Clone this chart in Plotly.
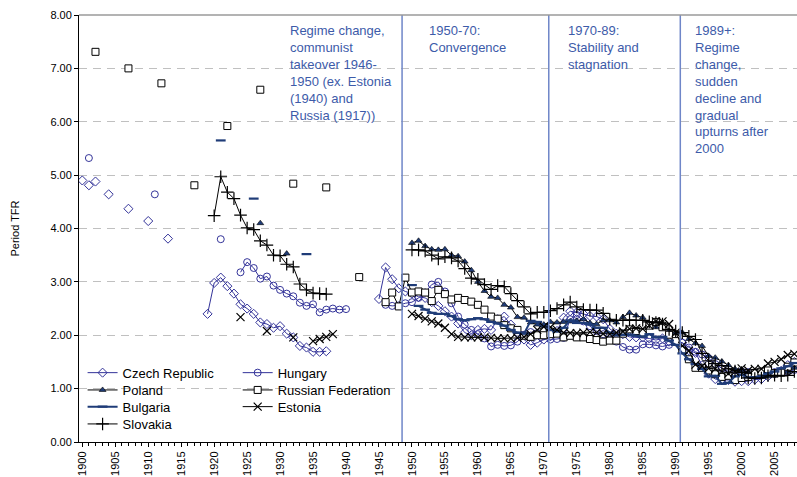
import plotly.graph_objects as go

# ---------------- data ----------------
post_years_45 = list(range(1945, 2009))
post_years_46 = list(range(1946, 2009))
post_years_50 = list(range(1950, 2009))
post_years_51 = list(range(1951, 2009))

# Czech Republic
cz_early_years = [1900, 1901, 1902, 1904, 1907, 1910, 1913]
cz_early_tfr = [4.90, 4.81, 4.88, 4.64, 4.37, 4.14, 3.81]
cz_years_interwar = list(range(1919, 1938))
cz_tfr_interwar = [2.40, 2.98, 3.08, 2.92, 2.78, 2.58, 2.50, 2.40, 2.24, 2.21,
                   2.14, 2.17, 2.03, 1.96, 1.80, 1.77, 1.69, 1.69, 1.70]
cz_tfr_post = [2.68, 3.27, 3.05, 2.88, 2.82,
               2.78, 2.72, 2.70, 2.62, 2.55, 2.45, 2.35, 2.22, 2.05, 2.00,
               2.10, 2.12, 2.10, 2.30, 2.35, 2.20, 2.05, 1.92, 1.82, 1.86,
               1.92, 1.98, 2.08, 2.33, 2.45, 2.43, 2.40, 2.36, 2.35, 2.30,
               2.12, 2.03, 2.02, 1.97, 1.96, 1.96, 1.94, 1.91, 1.94, 1.88,
               1.89, 1.86, 1.72, 1.67, 1.44, 1.28, 1.18, 1.17, 1.16, 1.13,
               1.14, 1.14, 1.17, 1.18, 1.23, 1.28, 1.33, 1.44, 1.50]

# Hungary
hu_early_years = [1901, 1911, 1921]
hu_early_tfr = [5.32, 4.64, 3.80]
hu_years_interwar = list(range(1924, 1941))
hu_tfr_interwar = [3.18, 3.37, 3.26, 3.06, 3.10, 2.93, 2.85, 2.78, 2.73, 2.61,
                   2.55, 2.58, 2.43, 2.48, 2.50, 2.48, 2.49]
hu_tfr_post = [2.57, 2.55, 2.56, 2.60,
               2.62, 2.70, 2.80, 2.95, 3.00, 2.82, 2.60, 2.35, 2.20, 2.10,
               2.02, 1.94, 1.79, 1.82, 1.80, 1.81, 1.88, 2.01, 2.06, 2.04,
               1.98, 1.92, 1.93, 1.95, 2.30, 2.38, 2.26, 2.17, 2.08, 2.02,
               1.92, 1.88, 1.78, 1.73, 1.73, 1.83, 1.83, 1.81, 1.79, 1.82,
               1.87, 1.86, 1.77, 1.69, 1.64, 1.57, 1.46, 1.38, 1.32, 1.28,
               1.32, 1.31, 1.30, 1.27, 1.28, 1.31, 1.34, 1.32, 1.35]

# Poland
pl_early_years = [1927, 1931]
pl_early_tfr = [4.10, 3.53]
pl_tfr_post = [3.73, 3.77, 3.67, 3.61, 3.60, 3.61, 3.50, 3.48, 3.38, 3.22,
               3.00, 2.83, 2.72, 2.70, 2.57, 2.52, 2.34, 2.33, 2.24, 2.20,
               2.20, 2.25, 2.24, 2.25, 2.26, 2.27, 2.30, 2.23, 2.21, 2.28,
               2.28, 2.24, 2.34, 2.42, 2.37, 2.33, 2.22, 2.15, 2.13, 2.08,
               2.04, 2.05, 1.93, 1.85, 1.80, 1.61, 1.58, 1.51, 1.44, 1.37,
               1.35, 1.31, 1.24, 1.22, 1.23, 1.24, 1.27, 1.31, 1.39]

# Russian Federation
ru_early_years = [1902, 1907, 1912, 1917, 1922, 1927, 1932, 1937, 1942]
ru_early_tfr = [7.31, 7.00, 6.72, 4.81, 5.92, 6.60, 4.84, 4.77, 3.09]
ru_tfr_post = [2.62, 2.80, 2.54, 3.08,
               2.80, 2.82, 2.80, 2.64, 2.85, 2.77, 2.67, 2.70, 2.66, 2.63,
               2.57, 2.48, 2.35, 2.31, 2.19, 2.13, 2.10, 1.99, 1.97, 2.00,
               2.00, 2.02, 2.03, 1.96, 1.99, 1.96, 1.96, 1.93, 1.91, 1.88,
               1.90, 1.90, 2.03, 2.11, 2.08, 2.05, 2.18, 2.25, 2.15, 2.01,
               1.89, 1.73, 1.55, 1.39, 1.39, 1.34, 1.27, 1.22, 1.24, 1.16,
               1.20, 1.22, 1.29, 1.32, 1.34, 1.29, 1.30, 1.41, 1.49]

# Bulgaria
bg_early_years = [1921, 1926, 1934, 1950]
bg_early_tfr = [5.65, 4.56, 3.52, 2.94]
bg_tfr_post = [2.55, 2.48, 2.42, 2.40, 2.40, 2.36, 2.30, 2.28, 2.30,
               2.32, 2.30, 2.25, 2.22, 2.18, 2.10, 2.05, 2.03, 2.27, 2.25,
               2.17, 2.10, 2.07, 2.14, 2.28, 2.23, 2.23, 2.20, 2.14, 2.14,
               2.05, 2.00, 2.01, 2.01, 1.99, 1.97, 2.02, 1.96, 1.97, 1.90,
               1.82, 1.66, 1.55, 1.46, 1.37, 1.23, 1.24, 1.09, 1.11, 1.23,
               1.26, 1.21, 1.21, 1.23, 1.29, 1.32, 1.38, 1.42, 1.48]

# Estonia
ee_years_interwar = list(range(1924, 1939))
ee_tfr_interwar = [2.34, None, None, None, 2.08, None, None, None, 1.96,
                   None, None, 1.89, 1.93, 1.97, 2.02]
ee_tfr_post = [2.40, 2.36, 2.31, 2.26, 2.22, 2.14, 2.02, 1.97, 1.96, 1.96,
               1.96, 1.96, 1.95, 1.94, 1.94, 1.94, 1.95, 1.97, 2.02, 2.10,
               2.16, 2.15, 2.10, 2.05, 2.04, 2.04, 2.05, 2.06, 2.05, 2.03,
               2.02, 2.05, 2.07, 2.12, 2.13, 2.12, 2.18, 2.26, 2.26, 2.21,
               2.05, 1.80, 1.71, 1.45, 1.42, 1.38, 1.37, 1.32, 1.28, 1.32,
               1.38, 1.34, 1.37, 1.37, 1.47, 1.50, 1.55, 1.63, 1.65]

# Slovakia
sk_years_interwar = list(range(1920, 1938))
sk_tfr_interwar = [4.24, 4.97, 4.68, 4.56, 4.25, 4.01, 3.98, 3.77, 3.69, 3.50,
                   3.49, 3.33, 3.28, 2.96, 2.85, 2.79, 2.78, 2.77]
sk_tfr_post = [3.60, 3.60, 3.58, 3.50, 3.43, 3.47, 3.45, 3.39, 3.25, 3.07,
               3.05, 2.95, 2.86, 2.93, 2.91, 2.78, 2.65, 2.53, 2.40, 2.43,
               2.43, 2.46, 2.50, 2.57, 2.62, 2.53, 2.48, 2.47, 2.47, 2.41,
               2.30, 2.28, 2.28, 2.29, 2.28, 2.28, 2.25, 2.24, 2.21, 2.11,
               2.08, 2.05, 1.98, 1.92, 1.66, 1.52, 1.47, 1.43, 1.37, 1.33,
               1.30, 1.20, 1.19, 1.20, 1.24, 1.25, 1.24, 1.25, 1.32]

period_lines = [1948.5, 1970.75, 1990.7]
period_labels = [
    (1931.2, "Regime change,<br>communist<br>takeover 1946-<br>1950 (ex. Estonia<br>(1940) and<br>Russia (1917))"),
    (1952.3, "1950-70:<br>Convergence"),
    (1973.4, "1970-89:<br>Stability and<br>stagnation"),
    (1992.7, "1989+:<br>Regime<br>change,<br>sudden<br>decline and<br>gradual<br>upturns after<br>2000"),
]

# ---------------- figure ----------------
NAVY = "#333399"
BGBLUE = "#1F3C78"
FONT = "Liberation Sans, Arial, sans-serif"


def join(y1, v1, y2, v2):
    return list(y1) + [None] + list(y2), list(v1) + [None] + list(v2)


fig = go.Figure()

# early marker-only points (no legend)
early = [
    (cz_early_years, cz_early_tfr, dict(symbol="diamond-open", size=7, color=NAVY, line=dict(width=1, color=NAVY))),
    (hu_early_years, hu_early_tfr, dict(symbol="circle-open", size=7, color=NAVY, line=dict(width=1, color=NAVY))),
    (pl_early_years, pl_early_tfr, dict(symbol="triangle-up", size=6, color=BGBLUE, line=dict(width=0.6, color="black"))),
    (ru_early_years, ru_early_tfr, dict(symbol="square", size=7, color="white", line=dict(width=1, color="black"))),
    (bg_early_years, bg_early_tfr, dict(symbol="line-ew", size=7, color=BGBLUE, line=dict(width=2.2, color=BGBLUE))),
]
for xs, ys, mk in early:
    fig.add_trace(go.Scatter(x=xs, y=ys, mode="markers", marker=mk, showlegend=False, hoverinfo="skip"))

x, y = join(cz_years_interwar, cz_tfr_interwar, post_years_45, cz_tfr_post)
fig.add_trace(go.Scatter(x=x, y=y, name="Czech Republic", mode="lines+markers",
                         line=dict(color=NAVY, width=1),
                         marker=dict(symbol="diamond-open", size=7, color=NAVY, line=dict(width=1, color=NAVY)),
                         legend="legend"))
x, y = join(hu_years_interwar, hu_tfr_interwar, post_years_46, hu_tfr_post)
fig.add_trace(go.Scatter(x=x, y=y, name="Hungary", mode="lines+markers",
                         line=dict(color=NAVY, width=1),
                         marker=dict(symbol="circle-open", size=7, color=NAVY, line=dict(width=1, color=NAVY)),
                         legend="legend2"))
fig.add_trace(go.Scatter(x=post_years_50, y=pl_tfr_post, name="Poland", mode="lines+markers",
                         line=dict(color="black", width=1),
                         marker=dict(symbol="triangle-up", size=6, color=BGBLUE, line=dict(width=0.6, color="black")),
                         legend="legend3"))
fig.add_trace(go.Scatter(x=post_years_46, y=ru_tfr_post, name="Russian Federation", mode="lines+markers",
                         line=dict(color="black", width=1),
                         marker=dict(symbol="square", size=7, color="white", line=dict(width=1, color="black")),
                         legend="legend4"))
fig.add_trace(go.Scatter(x=post_years_51, y=bg_tfr_post, name="Bulgaria", mode="lines+markers",
                         line=dict(color=BGBLUE, width=2),
                         marker=dict(symbol="line-ew", size=7, color=BGBLUE, line=dict(width=2.2, color=BGBLUE)),
                         legend="legend5"))
x, y = join(ee_years_interwar, ee_tfr_interwar, post_years_50, ee_tfr_post)
fig.add_trace(go.Scatter(x=x, y=y, name="Estonia", mode="lines+markers",
                         line=dict(color="black", width=1),
                         marker=dict(symbol="x-thin-open", size=8, color="black", line=dict(width=1.2, color="black")),
                         legend="legend6"))
x, y = join(sk_years_interwar, sk_tfr_interwar, post_years_50, sk_tfr_post)
fig.add_trace(go.Scatter(x=x, y=y, name="Slovakia", mode="lines+markers",
                         line=dict(color="black", width=1),
                         marker=dict(symbol="cross-thin-open", size=9, color="black", line=dict(width=1.2, color="black")),
                         legend="legend7"))

shapes = []
for xv in period_lines:
    shapes.append(dict(type="line", xref="x", yref="paper", x0=xv, x1=xv, y0=0, y1=1,
                       line=dict(color="#6F86C8", width=1.5)))
shapes.append(dict(type="line", xref="paper", yref="paper", x0=0, x1=1, y0=1, y1=1,
                   line=dict(color="#9A9A9A", width=1.5)))

annotations = []
for xv, txt in period_labels:
    annotations.append(dict(x=xv, y=7.88, xref="x", yref="y", text=txt, showarrow=False,
                            xanchor="left", yanchor="top", align="left",
                            font=dict(family=FONT, size=13, color="#3D5BA9")))


def leg(xp, yp):
    return dict(x=xp, y=yp, font=dict(family=FONT, size=13, color="black"), bgcolor="rgba(0,0,0,0)",
                orientation="v", xanchor="left", yanchor="middle", itemwidth=30)


col1, col2 = 0.005, 0.221
rows = [0.1623, 0.1218, 0.0827, 0.0422]

fig.update_layout(
    width=797, height=477,
    margin=dict(l=79, r=0, t=15, b=35),
    paper_bgcolor="white", plot_bgcolor="white",
    font=dict(family=FONT, size=11, color="black"),
    showlegend=True,
    legend=leg(col1, rows[0]),
    legend2=leg(col2, rows[0]),
    legend3=leg(col1, rows[1]),
    legend4=leg(col2, rows[1]),
    legend5=leg(col1, rows[2]),
    legend6=leg(col2, rows[2]),
    legend7=leg(col1, rows[3]),
    shapes=shapes,
    annotations=annotations,
    xaxis=dict(range=[1899.5, 2008.4], tickmode="linear", tick0=1900, dtick=5, automargin=False,
               tickangle=-90, ticks="outside", ticklen=4, tickcolor="black",
               showline=True, linecolor="black", linewidth=1, showgrid=False, zeroline=False,
               tickfont=dict(family=FONT, size=11, color="black"),
               minor=dict(dtick=1, ticks="outside", ticklen=3, tickcolor="black", showgrid=False)),
    yaxis=dict(range=[0, 8], tickmode="linear", tick0=0, dtick=1, tickformat=".2f", automargin=False,
               ticks="outside", ticklen=4, tickcolor="black",
               showline=True, linecolor="black", linewidth=1,
               showgrid=True, gridcolor="#C0C0C0", griddash="8px,6px", gridwidth=1, zeroline=False,
               tickfont=dict(family=FONT, size=11, color="black"),
               title=dict(text="Period TFR", font=dict(family=FONT, size=11, color="black"), standoff=28)),
)

fig.write_html("out.html", config={"displayModeBar": False},
               post_script="document.body.style.margin='0';")
